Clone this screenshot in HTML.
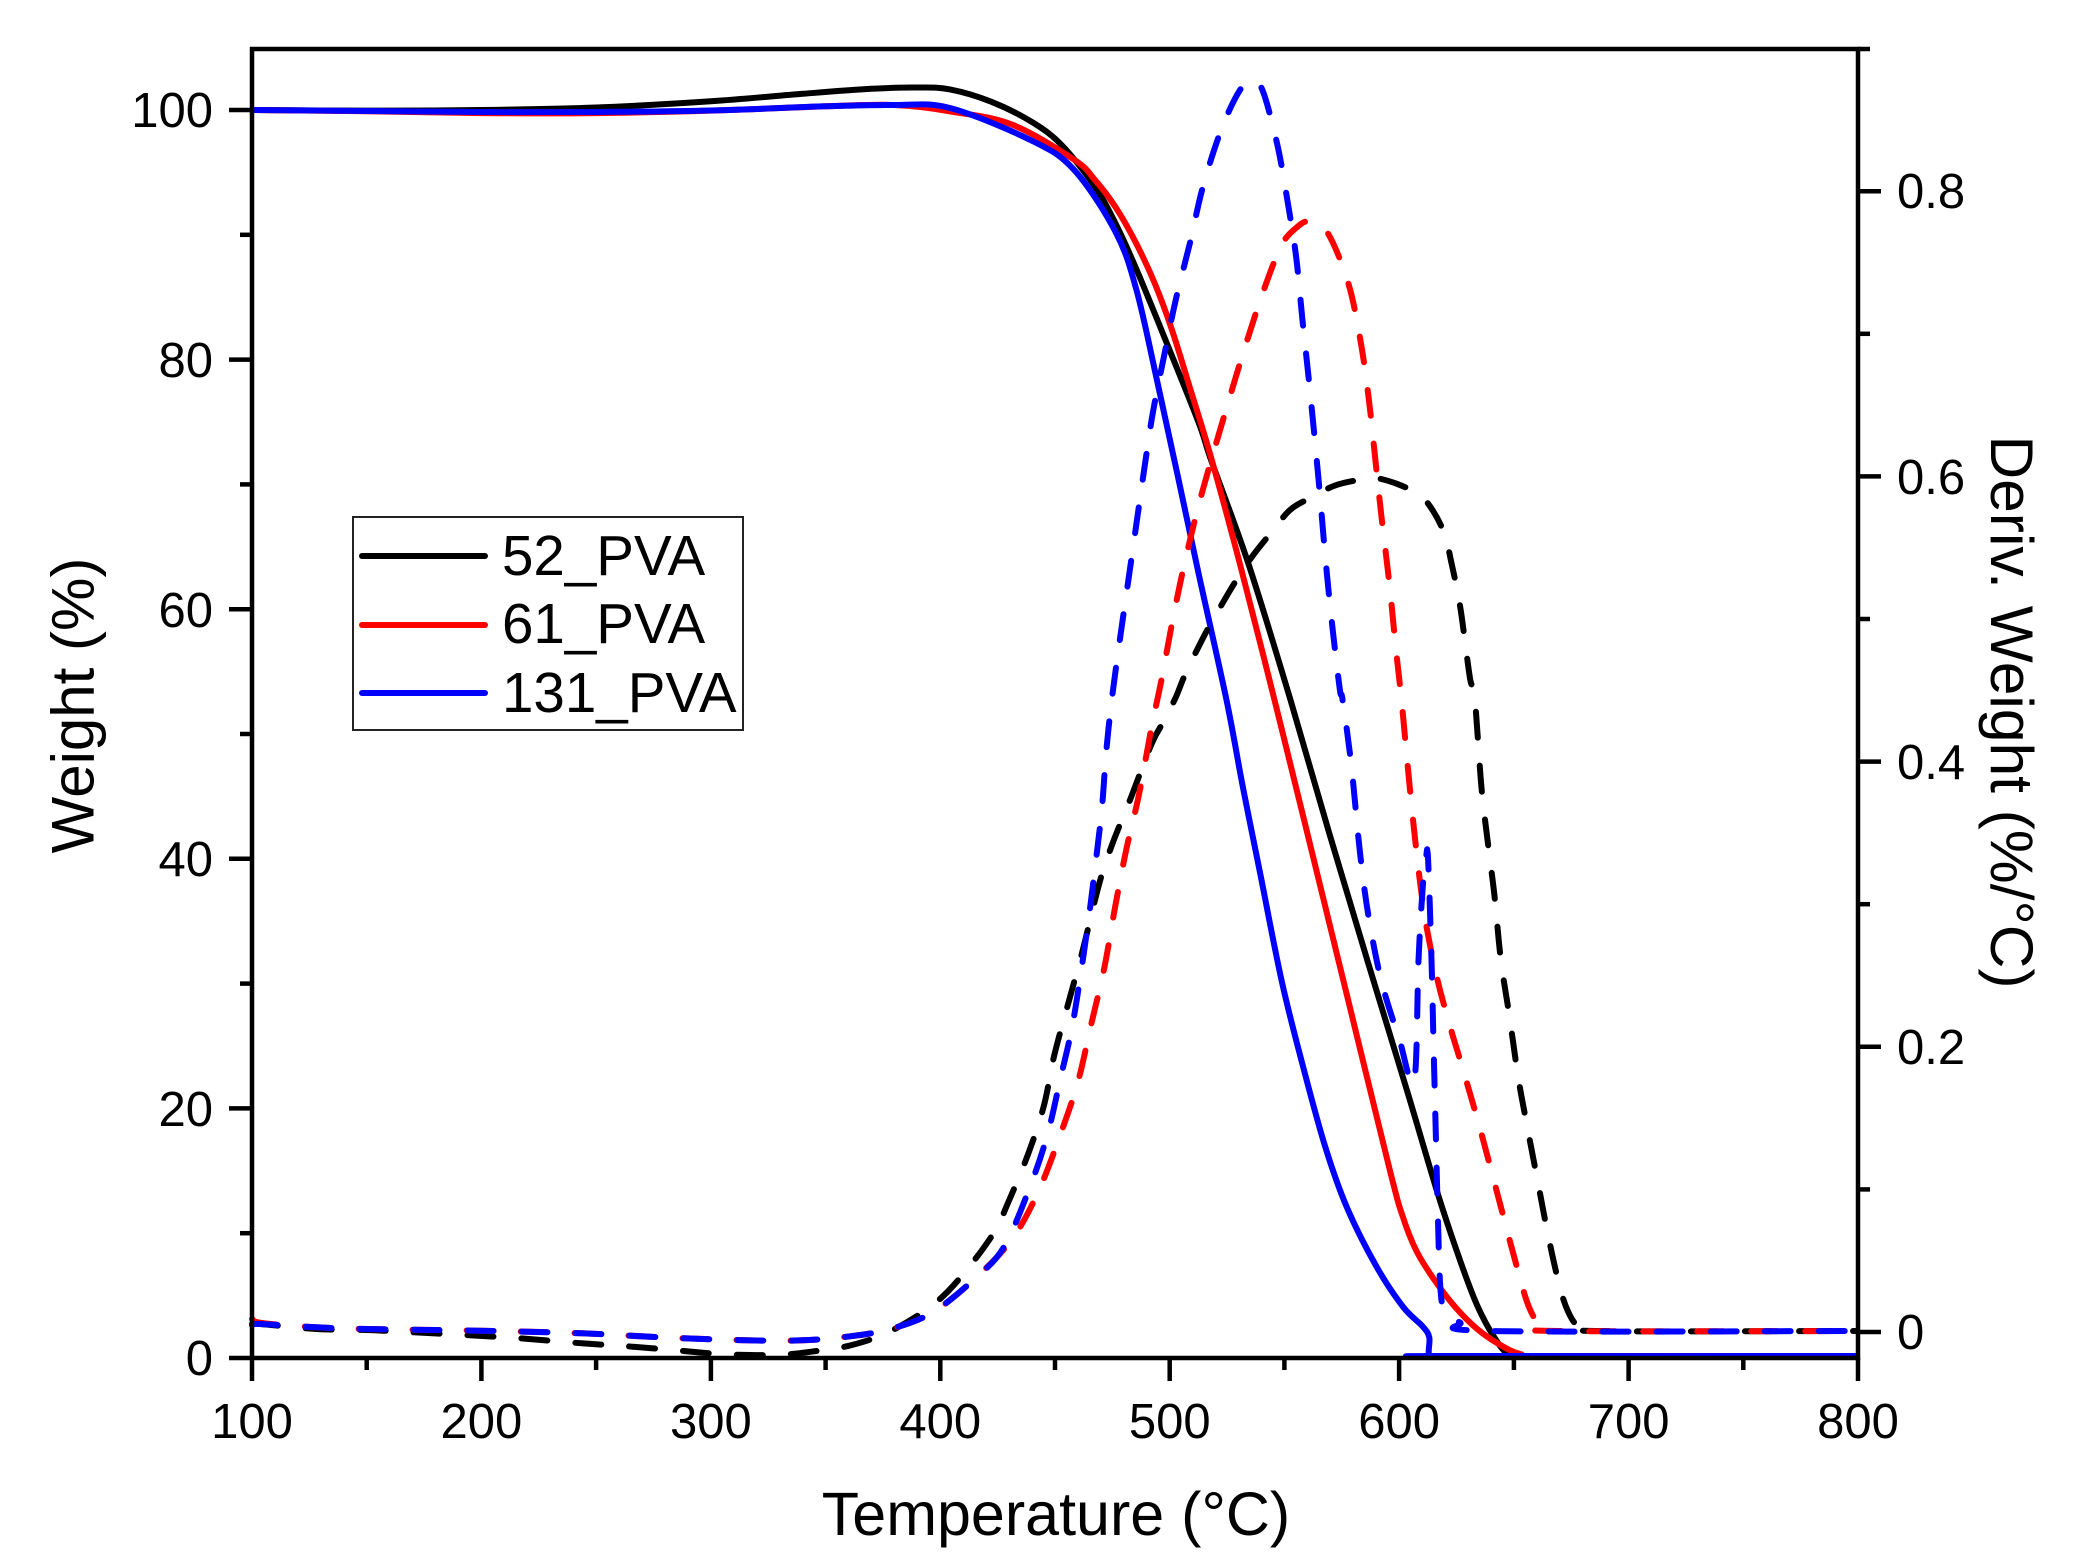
<!DOCTYPE html>
<html>
<head>
<meta charset="utf-8">
<style>
  html, body { margin:0; padding:0; background:#fff; }
  svg { display:block; }
  text { font-family: "Liberation Sans", Arial, sans-serif; fill:#000; }
</style>
</head>
<body>
<svg width="2077" height="1564" viewBox="0 0 2077 1564" xmlns="http://www.w3.org/2000/svg">
  <rect x="0" y="0" width="2077" height="1564" fill="#fff"/>

  <!-- Solid TGA curves -->
  <g fill="none" stroke-width="6" stroke-linejoin="round" stroke-linecap="round">
    <path class="s" stroke="#000000" d="M252,110 L366.7,110.6 L481.4,110 L596.1,107.5 L710.9,101.3 L802.6,93.8 L871.5,88.8 L917.3,87.5 L950,89.4 L991.5,101.8 L1032.9,122.6 L1062,145.4 L1095,186.8 L1115.8,224 L1136.6,269.7 L1165.6,340.2 L1198.8,423 L1211.2,460.4 L1248.5,564 L1290.5,700 L1329.6,834.4 L1368.6,964.5 L1407.6,1092.5 L1438,1194.4 L1459.7,1259.4 L1477,1305 L1494.4,1337.5 L1509.5,1354.8 L1530,1356 L1856,1356"/>
    <path class="s" stroke="#ff0000" d="M252,110 L366.7,111.2 L481.4,113.1 L596.1,113.1 L710.9,110.6 L825.6,106.3 L894.4,105 L950,111.4 L1012,124.6 L1074.4,159.9 L1095,180 L1115.8,207.5 L1136,243 L1155,284 L1172,330 L1190,388 L1211.2,458 L1240.2,565 L1272,690 L1303.6,818 L1346.9,995 L1390.3,1172 L1403.3,1218.2 L1416.3,1250.7 L1433.7,1278.9 L1455.3,1307.1 L1477,1328.8 L1498.7,1344 L1520.4,1354 L1550,1356 L1856,1356"/>
    <path class="s" stroke="#0000ff" d="M252,110 L366.7,111 L481.4,112 L596.1,112 L710.9,110.5 L825.6,106.3 L894.4,105 L950,108 L1032.9,141.2 L1074.4,170.2 L1115.8,232.4 L1136.6,290.5 L1157.3,381.7 L1178,477 L1198.8,574.5 L1226.5,700 L1242.8,786.7 L1260.2,873.5 L1281.9,981.9 L1303.6,1068.6 L1325.2,1146.7 L1346.9,1207.4 L1377.3,1268 L1403.3,1307.1 L1422.8,1326.6 L1429.3,1337.5 L1429.3,1354.8 L1440,1356 L1856,1356"/>
  </g>

  <!-- Dashed DTG curves -->
  <g fill="none" stroke-width="6" stroke-linejoin="round" stroke-linecap="round" stroke-dasharray="26 28">
    <path class="s" stroke="#000000" d="M252,1324 L260.2,1324 L316.3,1329 L367.3,1330 L413.3,1332.3 L464.3,1335 L520.4,1338.3 L581.6,1343.3 L632.7,1346.7 L683.7,1351 L724.5,1354.3 L775.5,1355 L811.2,1351.7 L852,1345 L892.9,1330 L938.8,1300 L974.5,1260 L1000,1223.3 L1004.3,1211.7 L1026,1159.7 L1043.4,1107.6 L1054.2,1055.6 L1069.4,999.2 L1082.4,951.5 L1099.7,882 L1112.7,843 L1130.1,799.7 L1151.8,743.4 L1164.8,719.5 L1176,696.8 L1186.3,671.9 L1207,630.4 L1223.6,601.4 L1236,580.7 L1252.7,555.8 L1269.2,535 L1290,510 L1310.7,497.8 L1335.6,485.3 L1364.6,479.1 L1381.2,479 L1410.2,489.5 L1426.8,502 L1443.4,531 L1451.7,564 L1460,605.6 L1466.2,651 L1470.3,680 L1474.9,700 L1481.4,786.7 L1487.9,843 L1494.4,895.1 L1500.9,960.2 L1509.5,1016.6 L1518.2,1077.3 L1526.9,1125 L1537.7,1181.3 L1548.6,1237.7 L1559.4,1285.4 L1568,1311.4 L1578,1326 L1595,1331 L1856,1331"/>
    <path class="s" stroke="#ff0000" d="M252,1319 L262,1323 L316.3,1327.3 L367.3,1329 L479.6,1330.7 L581.6,1333.3 L683.7,1338.3 L785.7,1340.7 L847,1336.7 L893,1328.3 L933.7,1311.7 L977,1276.7 L1013,1237.7 L1039,1190 L1060.7,1133.6 L1078,1081.6 L1091,1025.2 L1104.1,968.9 L1114.9,908.2 L1125.8,851.8 L1138.8,795.4 L1151.8,726 L1161.4,680.2 L1173.9,613.8 L1186.3,555.8 L1202.9,489.5 L1231.9,390 L1248.5,336.1 L1265.1,286.3 L1281.7,244.9 L1296,228 L1309,221.5 L1327.3,232.4 L1348,282.2 L1360.4,340.2 L1368.7,398.3 L1375,456.3 L1381.2,514.3 L1389.5,584.8 L1395.7,647 L1401.5,700 L1407.6,765 L1414.1,830 L1420.6,886.5 L1427.1,929.8 L1438,981.9 L1451,1029.6 L1464,1072.9 L1481.4,1133.6 L1498.7,1198.7 L1516,1263.7 L1529,1307.1 L1542,1326.6 L1560,1331 L1856,1331"/>
    <path class="s" stroke="#0000ff" d="M252,1325 L260.2,1324 L316.3,1327.3 L367.3,1329 L479.6,1330.7 L581.6,1333.3 L683.7,1338.3 L785.7,1340.7 L847,1336.7 L893,1328.3 L933.7,1311.7 L977,1276.7 L1004.3,1246.4 L1030.4,1185.7 L1047.7,1133.6 L1060.7,1077.3 L1071.6,1029.6 L1080.2,977.5 L1088.9,916.8 L1095.4,864.8 L1101.9,808.4 L1106.2,752 L1112,698 L1120,638.7 L1128.3,580.7 L1136.6,522.6 L1144.9,464.6 L1153.2,410.7 L1165.6,348.5 L1176,298.8 L1190.5,240.7 L1202.9,186.8 L1221.6,128.8 L1240,90 L1252.7,80.5 L1263,91.5 L1277.5,145.4 L1287.9,203.4 L1296.2,257.3 L1302.4,319.5 L1308.6,377.5 L1314.8,439.7 L1320.2,497.8 L1325.2,555.8 L1331.4,618 L1339.7,688.5 L1342.6,700 L1351.3,765 L1359.9,851.8 L1368.6,916.8 L1381.6,981.9 L1399,1038.2 L1414.1,1081.6 L1418.5,960.2 L1422.8,886.5 L1426,858 L1428,858 L1431.5,960 L1433.6,1047 L1435.8,1133.6 L1438,1220.4 L1440.2,1285.4 L1444.5,1309.3 L1459.7,1322.3 L1490,1331 L1856,1331"/>
  </g>

  <!-- Axes frame -->
  <g stroke="#000" stroke-width="4.5" fill="none" stroke-linecap="square">
    <rect x="252" y="49" width="1606" height="1309"/>
  </g>

  <!-- Ticks -->
  <g stroke="#000" stroke-width="4.5">
    <line x1="252" y1="1358" x2="252" y2="1381"/>
    <line x1="481.4" y1="1358" x2="481.4" y2="1381"/>
    <line x1="710.9" y1="1358" x2="710.9" y2="1381"/>
    <line x1="940.3" y1="1358" x2="940.3" y2="1381"/>
    <line x1="1169.7" y1="1358" x2="1169.7" y2="1381"/>
    <line x1="1399.1" y1="1358" x2="1399.1" y2="1381"/>
    <line x1="1628.6" y1="1358" x2="1628.6" y2="1381"/>
    <line x1="1858" y1="1358" x2="1858" y2="1381"/>
    <line x1="366.7" y1="1358" x2="366.7" y2="1370"/>
    <line x1="596.1" y1="1358" x2="596.1" y2="1370"/>
    <line x1="825.6" y1="1358" x2="825.6" y2="1370"/>
    <line x1="1055" y1="1358" x2="1055" y2="1370"/>
    <line x1="1284.4" y1="1358" x2="1284.4" y2="1370"/>
    <line x1="1513.9" y1="1358" x2="1513.9" y2="1370"/>
    <line x1="1743.3" y1="1358" x2="1743.3" y2="1370"/>
    <line x1="229" y1="1358" x2="252" y2="1358"/>
    <line x1="229" y1="1108.4" x2="252" y2="1108.4"/>
    <line x1="229" y1="858.8" x2="252" y2="858.8"/>
    <line x1="229" y1="609.2" x2="252" y2="609.2"/>
    <line x1="229" y1="359.6" x2="252" y2="359.6"/>
    <line x1="229" y1="110" x2="252" y2="110"/>
    <line x1="240" y1="1233.2" x2="252" y2="1233.2"/>
    <line x1="240" y1="983.6" x2="252" y2="983.6"/>
    <line x1="240" y1="734" x2="252" y2="734"/>
    <line x1="240" y1="484.4" x2="252" y2="484.4"/>
    <line x1="240" y1="234.8" x2="252" y2="234.8"/>
    <line x1="1858" y1="1332" x2="1881" y2="1332"/>
    <line x1="1858" y1="1046.8" x2="1881" y2="1046.8"/>
    <line x1="1858" y1="761.6" x2="1881" y2="761.6"/>
    <line x1="1858" y1="476.4" x2="1881" y2="476.4"/>
    <line x1="1858" y1="191.2" x2="1881" y2="191.2"/>
    <line x1="1858" y1="1189.4" x2="1870" y2="1189.4"/>
    <line x1="1858" y1="904.2" x2="1870" y2="904.2"/>
    <line x1="1858" y1="619" x2="1870" y2="619"/>
    <line x1="1858" y1="333.8" x2="1870" y2="333.8"/>
    <line x1="1858" y1="49" x2="1870" y2="49"/>
  </g>

  <!-- Bottom tick labels -->
  <g font-size="49" text-anchor="middle">
    <text x="252" y="1438">100</text>
    <text x="481.4" y="1438">200</text>
    <text x="710.9" y="1438">300</text>
    <text x="940.3" y="1438">400</text>
    <text x="1169.7" y="1438">500</text>
    <text x="1399.1" y="1438">600</text>
    <text x="1628.6" y="1438">700</text>
    <text x="1858" y="1438">800</text>
  </g>

  <!-- Left tick labels -->
  <g font-size="49" text-anchor="end">
    <text x="213" y="1375">0</text>
    <text x="213" y="1126">20</text>
    <text x="213" y="876">40</text>
    <text x="213" y="627">60</text>
    <text x="213" y="377">80</text>
    <text x="213" y="127">100</text>
  </g>

  <!-- Right tick labels -->
  <g font-size="49" text-anchor="start">
    <text x="1897" y="1349">0</text>
    <text x="1897" y="1064">0.2</text>
    <text x="1897" y="779">0.4</text>
    <text x="1897" y="494">0.6</text>
    <text x="1897" y="208">0.8</text>
  </g>

  <!-- Axis titles -->
  <text x="1056" y="1535" font-size="61" text-anchor="middle">Temperature (°C)</text>
  <text transform="translate(93.5,705.5) rotate(-90)" font-size="60" text-anchor="middle">Weight (%)</text>
  <text transform="translate(1991,712) rotate(90)" font-size="60.5" text-anchor="middle">Deriv. Weight (%/°C)</text>

  <!-- Legend -->
  <rect x="353" y="517" width="390" height="213" fill="#fff" stroke="#222" stroke-width="2"/>
  <g stroke-width="6" stroke-linecap="round">
    <line x1="362" y1="556" x2="485" y2="556" stroke="#000000"/>
    <line x1="362" y1="625" x2="485" y2="625" stroke="#ff0000"/>
    <line x1="362" y1="693" x2="485" y2="693" stroke="#0000ff"/>
  </g>
  <g font-size="56.5">
    <text x="502" y="575">52_PVA</text>
    <text x="502" y="643">61_PVA</text>
    <text x="502" y="712">131_PVA</text>
  </g>
</svg>
<script>
(function(){
  try {
    var paths = document.querySelectorAll('path.s');
    for (var k = 0; k < paths.length; k++) {
      var p = paths[k];
      var nums = p.getAttribute('d').match(/-?\d+(\.\d+)?/g).map(Number);
      var pts = [];
      for (var i = 0; i + 1 < nums.length; i += 2) pts.push([nums[i], nums[i+1]]);
      if (pts.length < 3) continue;
      var d = 'M' + pts[0][0] + ',' + pts[0][1];
      for (var j = 0; j < pts.length - 1; j++) {
        var p0 = pts[j-1] || pts[j], p1 = pts[j], p2 = pts[j+1], p3 = pts[j+2] || pts[j+1];
        var c1x = p1[0] + (p2[0]-p0[0])/6, c1y = p1[1] + (p2[1]-p0[1])/6;
        var c2x = p2[0] - (p3[0]-p1[0])/6, c2y = p2[1] - (p3[1]-p1[1])/6;
        d += ' C' + c1x.toFixed(2) + ',' + c1y.toFixed(2) + ' ' + c2x.toFixed(2) + ',' + c2y.toFixed(2) + ' ' + p2[0] + ',' + p2[1];
      }
      p.setAttribute('d', d);
    }
  } catch(e) {}
})();
</script>
</body>
</html>
